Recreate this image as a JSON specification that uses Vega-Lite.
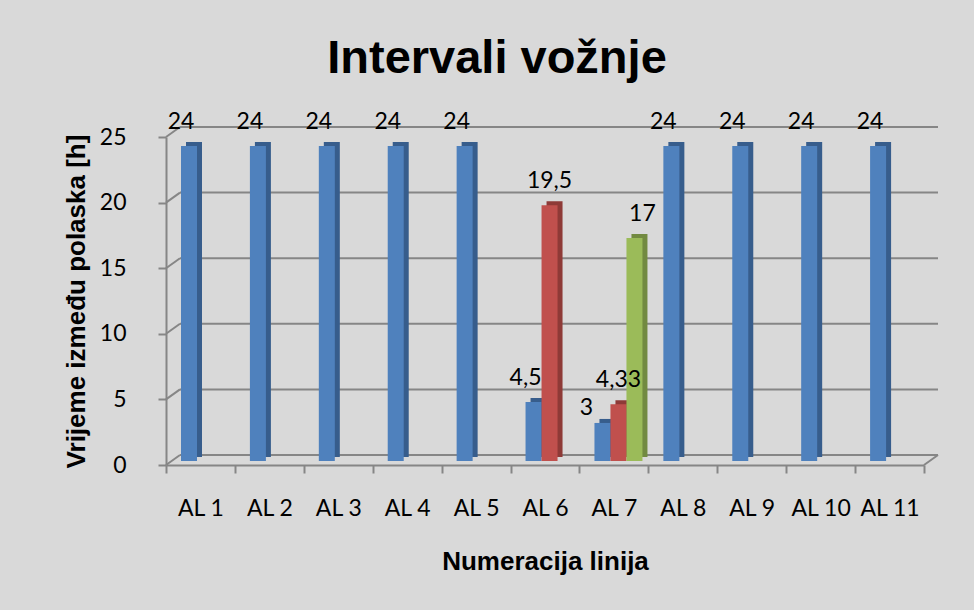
{
  "$schema": "https://vega.github.io/schema/vega-lite/v6.json",
  "width": 758,
  "height": 328,
  "autosize": {"type": "none"},
  "padding": {"left": 166, "top": 137, "right": 50, "bottom": 145},
  "background": "#d9d9d9",
  "title": {
    "text": "Intervali vožnje",
    "font": "Liberation Sans",
    "fontSize": 47,
    "fontWeight": "bold",
    "color": "#000000",
    "anchor": "middle",
    "frame": "group",
    "dx": -48,
    "offset": 28
  },
  "datasets": {
    "bars": [
      {"line": "AL 1", "series": "s1", "value": 24, "label": "24"},
      {"line": "AL 2", "series": "s1", "value": 24, "label": "24"},
      {"line": "AL 3", "series": "s1", "value": 24, "label": "24"},
      {"line": "AL 4", "series": "s1", "value": 24, "label": "24"},
      {"line": "AL 5", "series": "s1", "value": 24, "label": "24"},
      {"line": "AL 6", "series": "s1", "value": 4.5, "label": "4,5"},
      {"line": "AL 6", "series": "s2", "value": 19.5, "label": "19,5"},
      {"line": "AL 7", "series": "s1", "value": 2.9, "label": "3"},
      {"line": "AL 7", "series": "s2", "value": 4.33, "label": "4,33"},
      {"line": "AL 7", "series": "s3", "value": 17, "label": "17"},
      {"line": "AL 8", "series": "s1", "value": 24, "label": "24"},
      {"line": "AL 9", "series": "s1", "value": 24, "label": "24"},
      {"line": "AL 10", "series": "s1", "value": 24, "label": "24"},
      {"line": "AL 11", "series": "s1", "value": 24, "label": "24"}
    ],
    "grid": [{"v": 0}, {"v": 5}, {"v": 10}, {"v": 15}, {"v": 20}, {"v": 25}]
  },
  "config": {
    "view": {"stroke": null},
    "axis": {
      "domainColor": "#868686",
      "domainWidth": 2,
      "tickColor": "#868686",
      "tickWidth": 2,
      "tickSize": 8,
      "grid": false,
      "labelFont": "Lato",
      "labelFontSize": 23,
      "labelColor": "#000000",
      "titleFont": "Liberation Sans",
      "titleFontSize": 26,
      "titleFontWeight": "bold",
      "titleColor": "#000000"
    }
  },
  "layer": [
    {
      "layer": [
        {
          "data": {"name": "grid"},
          "mark": {"type": "rule", "color": "#868686", "strokeWidth": 2, "xOffset": 14, "x2Offset": 14, "yOffset": -10},
          "encoding": {
            "x": {"datum": 0, "type": "quantitative", "scale": {"domain": [0, 11], "nice": false, "zero": false}, "axis": null},
            "x2": {"datum": 11},
            "y": {"field": "v", "type": "quantitative"}
          }
        },
        {
          "data": {"name": "grid"},
          "mark": {"type": "rule", "color": "#868686", "strokeWidth": 2, "x2Offset": 14, "y2Offset": -10},
          "encoding": {
            "x": {"datum": 0, "type": "quantitative"},
            "x2": {"datum": 0},
            "y": {"field": "v", "type": "quantitative"},
            "y2": {"field": "v"}
          }
        },
        {
          "data": {"values": [{"v": 0}]},
          "mark": {"type": "rule", "color": "#868686", "strokeWidth": 2, "x2Offset": 14, "y2Offset": -10},
          "encoding": {
            "x": {"datum": 11, "type": "quantitative"},
            "x2": {"datum": 11},
            "y": {"field": "v", "type": "quantitative"},
            "y2": {"field": "v"}
          }
        }
      ]
    },
    {
      "layer": [
        {
          "data": {"name": "bars"},
          "mark": {"type": "bar", "yOffset": -8, "y2Offset": -8},
          "encoding": {
            "x": {"field": "line", "type": "nominal", "sort": null,
                  "scale": {"domain": ["AL 1","AL 2","AL 3","AL 4","AL 5","AL 6","AL 7","AL 8","AL 9","AL 10","AL 11"], "paddingInner": 0, "paddingOuter": 0},
                  "axis": {"orient": "bottom", "title": "Numeracija linija", "labelAngle": 0, "tickBand": "extent", "labelPadding": 24, "titlePadding": 28}},
            "xOffset": {"field": "series", "type": "nominal", "scale": {"domain": ["s1","s2","s3"], "range": [20, 68], "paddingInner": 0, "paddingOuter": 0}},
            "y": {"field": "value", "type": "quantitative",
                  "scale": {"domain": [0, 25], "nice": false},
                  "axis": {"title": "Vrijeme između polaska [h]", "values": [0,5,10,15,20,25], "labelPadding": 32, "titlePadding": 10}},
            "color": {"field": "series", "type": "nominal", "legend": null,
                      "scale": {"domain": ["s1","s2","s3"], "range": ["#375d8c", "#8e3a37", "#728a41"]}}
          }
        },
        {
          "data": {"name": "bars"},
          "mark": {"type": "bar", "yOffset": -4, "y2Offset": -4},
          "encoding": {
            "x": {"field": "line", "type": "nominal", "sort": null},
            "xOffset": {"field": "series", "type": "nominal", "scale": {"domain": ["s1","s2","s3"], "range": [15, 63], "paddingInner": 0, "paddingOuter": 0}},
            "y": {"field": "value", "type": "quantitative"},
            "fill": {"field": "series", "type": "nominal", "legend": null,
                     "scale": {"domain": ["s1","s2","s3"], "range": ["#4f81bd", "#c0504d", "#9bbb59"]}}
          }
        },
        {
          "data": {"name": "bars"},
          "transform": [{"filter": "datum.label !== '3'"}],
          "mark": {"type": "text", "font": "Lato", "fontSize": 23, "color": "#000000", "baseline": "middle", "yOffset": -28},
          "encoding": {
            "x": {"field": "line", "type": "nominal", "sort": null},
            "xOffset": {"field": "series", "type": "nominal", "scale": {"domain": ["s1","s2","s3"], "range": [15, 63], "paddingInner": 0, "paddingOuter": 0}},
            "y": {"field": "value", "type": "quantitative"},
            "text": {"field": "label"}
          }
        },
        {
          "data": {"name": "bars"},
          "transform": [{"filter": "datum.label === '3'"}],
          "mark": {"type": "text", "font": "Lato", "fontSize": 23, "color": "#000000", "baseline": "middle", "yOffset": -19, "dx": -8},
          "encoding": {
            "x": {"field": "line", "type": "nominal", "sort": null},
            "xOffset": {"field": "series", "type": "nominal", "scale": {"domain": ["s1","s2","s3"], "range": [15, 63], "paddingInner": 0, "paddingOuter": 0}},
            "y": {"field": "value", "type": "quantitative"},
            "text": {"field": "label"}
          }
        }
      ],
      "resolve": {"scale": {"xOffset": "independent", "color": "independent"}}
    }
  ],
  "resolve": {"scale": {"x": "independent"}, "axis": {"x": "independent"}}
}
